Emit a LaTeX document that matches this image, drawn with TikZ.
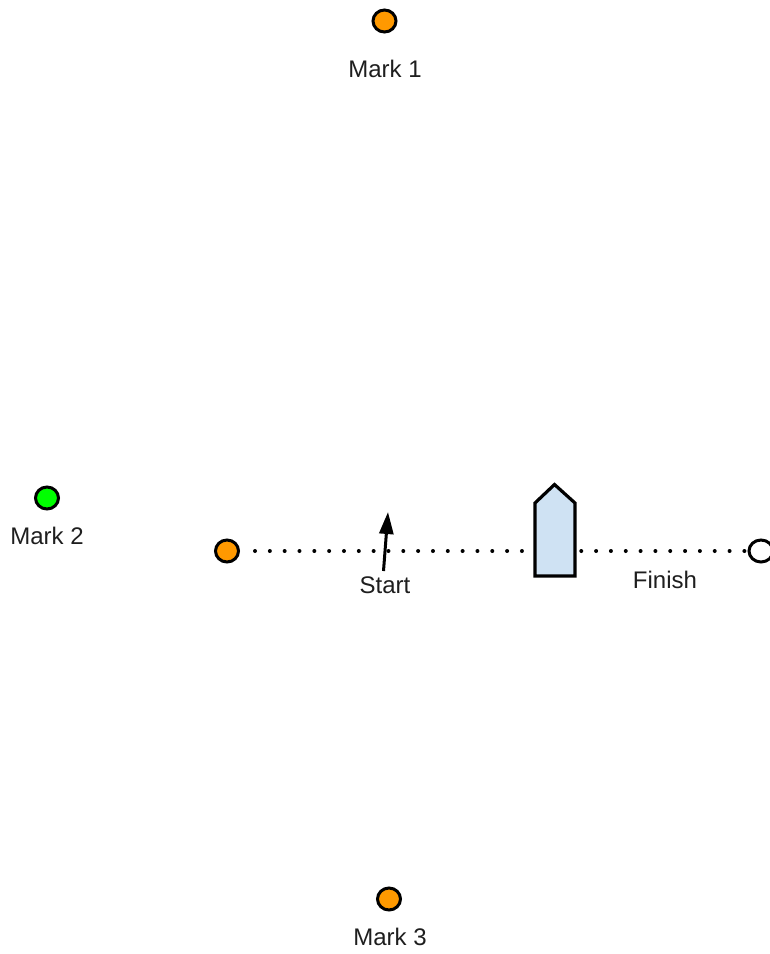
\documentclass[tikz,border=0pt]{standalone}
\usepackage{fontspec}
\setmainfont{Liberation Sans}
\usetikzlibrary{arrows.meta,shapes.geometric}
\definecolor{markorange}{HTML}{FF9900}
\definecolor{markgreen}{HTML}{00FF00}
\definecolor{boatblue}{HTML}{CFE2F3}
\definecolor{txt}{HTML}{1E1E1E}
\tikzset{
  buoy/.style={ellipse, draw=black, line width=3pt, minimum width=23pt, minimum height=22pt, inner sep=0pt},
  lbl/.style={anchor=base, text=txt, font=\fontsize{24pt}{28pt}\selectfont, inner sep=0pt},
  lineof/.style={line width=4pt, line cap=round, dash pattern=on 0pt off 14.83pt},
}
\begin{document}
\begin{tikzpicture}[x=1pt,y=-1pt]
\useasboundingbox (0,0) rectangle (770,954);
% marks
\node[buoy, fill=markorange] (m1) at (384.5,21) {};
\node[lbl] (m1l) at (385,77) {Mark 1};
\node[buoy, fill=markgreen] (m2) at (47,498) {};
\node[lbl] (m2l) at (47,544) {Mark 2};
\node[buoy, fill=markorange] (m3) at (389,899) {};
\node[lbl] (m3l) at (390,945) {Mark 3};
% start / finish
\node[buoy, fill=markorange] (st) at (227,551) {};
\node[buoy, fill=white, minimum width=24pt] (fi) at (761,551) {};
\draw[lineof, shorten <=15pt, shorten >=1.5pt] (st.east) -- (fi.west);
\node[lbl] (stl) at (385,593) {Start};
\node[lbl] (fil) at (665,588.5) {Finish};
% start arrow
\coordinate (atail) at (383.5,571);
\coordinate (atip) at (388,512);
\draw[line width=3pt, -{Triangle[length=22pt,width=14pt]}] (atail) -- (atip);
% boat
\draw[line width=3.2pt, fill=boatblue, line join=miter] (535,576) -- (535,503) -- (554.5,484.5) -- (575,503) -- (575,576) -- cycle;
\end{tikzpicture}
\end{document}
